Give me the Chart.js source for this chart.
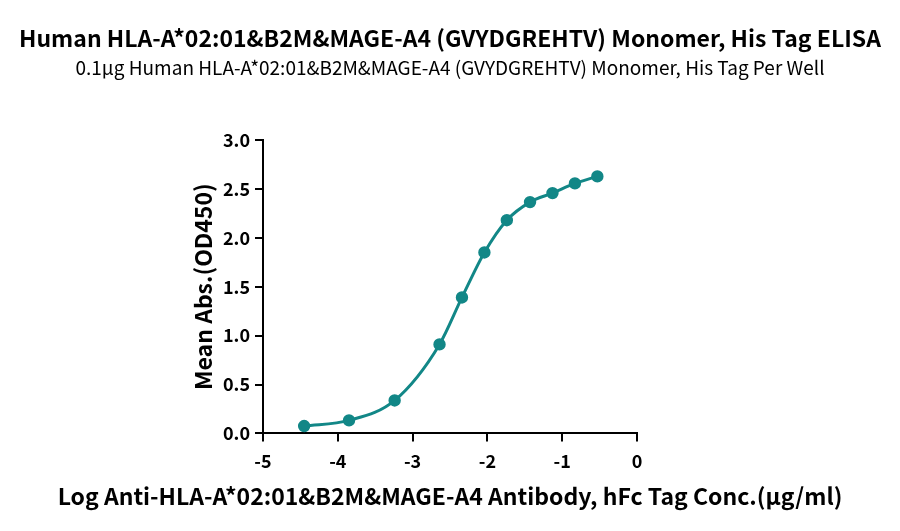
<!DOCTYPE html>
<html>
<head>
<meta charset="utf-8">
<style>
html,body{margin:0;padding:0;background:#fff;}
#wrap{width:900px;height:531px;position:relative;}
</style>
<script src="https://cdn.jsdelivr.net/npm/chart.js@4/dist/chart.umd.min.js"></script>
</head>
<body>
<div id="wrap"><canvas id="c" width="900" height="531"></canvas></div>
<script>
const titleText = "Human HLA-A*02:01&B2M&MAGE-A4 (GVYDGREHTV) Monomer, His Tag ELISA";
const subtitleText = "0.1μg Human HLA-A*02:01&B2M&MAGE-A4 (GVYDGREHTV) Monomer, His Tag Per Well";
const xAxisTitle = "Log Anti-HLA-A*02:01&B2M&MAGE-A4 Antibody, hFc Tag Conc.(μg/ml)";
const yAxisTitle = "Mean Abs.(OD450)";
const logConc = [-4.45, -3.85, -3.24, -2.64, -2.34, -2.04, -1.74, -1.43, -1.13, -0.83, -0.53];
const meanAbs = [0.075, 0.133, 0.337, 0.91, 1.39, 1.85, 2.18, 2.365, 2.457, 2.556, 2.628];
const xTicks = [-5, -4, -3, -2, -1, 0];
const yTicks = [0.0, 0.5, 1.0, 1.5, 2.0, 2.5, 3.0];

const teal = '#128787';
const FONT = "'Noto Sans CJK SC', 'Noto Sans', sans-serif";
const pts = logConc.map((x, i) => ({x: x, y: meanAbs[i]}));

// x-axis title drawn full width (the built-in scale title is squeezed to the plot width)
const xTitlePlugin = {
  id: 'xTitleFull',
  afterDraw(chart) {
    const ctx = chart.ctx;
    const ca = chart.chartArea;
    ctx.save();
    ctx.font = "bold 23px " + FONT;
    ctx.fillStyle = '#000';
    ctx.textAlign = 'center';
    ctx.textBaseline = 'middle';
    ctx.fillText(xAxisTitle, (ca.left + ca.right) / 2, ca.bottom + 63);
    ctx.restore();
  }
};

new Chart(document.getElementById('c'), {
  type: 'scatter',
  data: {
    datasets: [
      {
        data: pts,
        showLine: true,
        borderColor: teal,
        backgroundColor: teal,
        borderWidth: 3,
        pointRadius: 4.7,
        pointHoverRadius: 4.7,
        tension: 0.4,
        cubicInterpolationMode: 'monotone',
        fill: false
      }
    ]
  },
  plugins: [xTitlePlugin],
  options: {
    responsive: false,
    animation: false,
    devicePixelRatio: 1,
    layout: { padding: { left: 0, right: 0, top: 0, bottom: 50 } },
    plugins: {
      legend: { display: false },
      tooltip: { enabled: false },
      title: {
        display: true,
        text: titleText,
        color: '#000',
        font: { family: FONT, size: 23, weight: 'bold' },
        padding: { top: 24, bottom: 5 }
      },
      subtitle: {
        display: true,
        text: subtitleText,
        color: '#000',
        font: { family: FONT, size: 19, weight: 'normal' },
        padding: { top: 0, bottom: 60.6 }
      }
    },
    scales: {
      x: {
        type: 'linear',
        min: -5, max: 0,
        afterBuildTicks: s => { s.ticks = xTicks.map(v => ({value: v})); },
        ticks: {
          color: '#000',
          font: { family: FONT, size: 18, weight: 'bold' },
          padding: 9,
          maxRotation: 0,
          callback: v => String(v)
        },
        grid: { drawOnChartArea: false, drawTicks: true, tickLength: 8, color: '#000', lineWidth: 2 },
        border: { color: '#000', width: 2 },
        title: { display: false }
      },
      y: {
        type: 'linear',
        min: 0, max: 3,
        afterBuildTicks: s => { s.ticks = yTicks.map(v => ({value: v})); },
        afterFit: s => { s.width = 263; },
        ticks: {
          color: '#000',
          font: { family: FONT, size: 18, weight: 'bold' },
          padding: 5,
          callback: v => Number(v).toFixed(1)
        },
        grid: { drawOnChartArea: false, drawTicks: true, tickLength: 8, color: '#000', lineWidth: 2 },
        border: { color: '#000', width: 2 },
        title: {
          display: true,
          text: yAxisTitle,
          color: '#000',
          font: { family: FONT, size: 23, weight: 'bold' },
          padding: { top: 189, bottom: 0 }
        }
      },
      y2: {
        type: 'linear',
        position: 'right',
        min: 0, max: 3,
        afterFit: s => { s.width = 263; },
        ticks: { display: false },
        grid: { display: false },
        border: { display: false },
        title: { display: false }
      }
    }
  }
});
</script>
</body>
</html>
